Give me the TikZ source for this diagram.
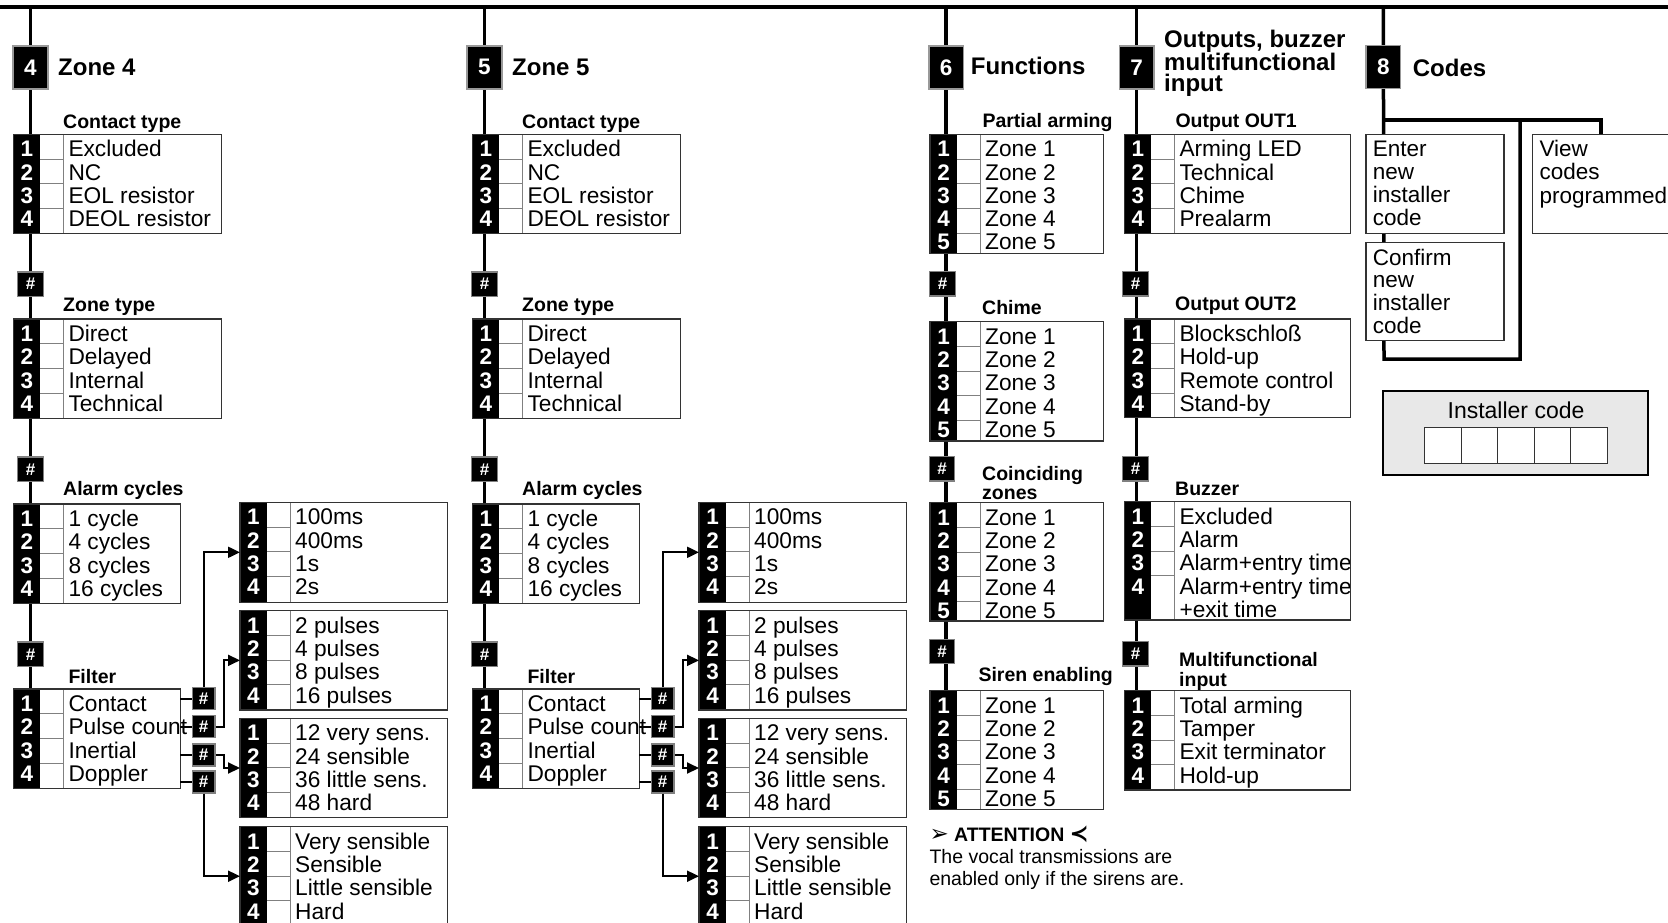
\documentclass[tikz,border=0pt]{standalone}
\usepackage{fontspec}
\setmainfont{Liberation Sans}
\newfontfamily\symfont{DejaVu Sans}
\usetikzlibrary{arrows.meta,positioning,calc}

\pgfdeclarelayer{background}
\pgfsetlayers{background,main}

\tikzset{
  optframe/.style={draw=black!80, line width=1.2pt, inner sep=0pt, outer sep=0pt},
  chkline/.style={draw=black!50, line width=1pt},
  optnum/.style={text=white, font=\bfseries\fontsize{22.5}{22.5}\selectfont, inner sep=0pt, anchor=base},
  opttext/.style={font=\fontsize{22.7}{23.3}\selectfont, inner sep=0pt, anchor=base west, align=left},
  lbl/.style={font=\bfseries\fontsize{19.5}{19.5}\selectfont, inner sep=0pt, anchor=base west, align=left},
  title/.style={font=\bfseries\fontsize{24}{21}\selectfont, inner sep=0pt, anchor=base west, align=left},
  hdbox/.style={fill=black, draw=black!40, line width=1.5pt, minimum width=35pt, minimum height=43pt,
    inner sep=0pt, text=white, font=\bfseries\fontsize{22.5}{22.5}\selectfont},
  hashbox/.style={fill=black, draw=black!50, line width=1.3pt, minimum width=25.5pt, minimum height=24.5pt,
    inner sep=0pt, text=white, font=\bfseries\fontsize{17}{17}\selectfont},
  sidehash/.style={hashbox, minimum width=22.7pt, minimum height=22pt},
  trunk/.style={line width=3.5pt},
  stub/.style={line width=2pt},
  conn/.style={line width=2pt, -{Triangle[length=12pt,width=11pt]}},
  codebox/.style={optframe, fill=white, anchor=north west},
}

% option list: name, top left, width, height, numbered rows, entries num/text
\newcommand{\optbox}[6]{%
  \node[optframe, fill=white, minimum width=#3pt, minimum height=#4pt, anchor=north west] (#1) at #2 {};
  \fill (#1.north west) rectangle ($(#1.south west)+(27,0)$);
  \foreach \k in {2,...,#5}
    \draw[chkline] ($(#1.north west)+(27,{(\k-1)*24.7})$) -- ++(23,0);
  \draw[chkline] ($(#1.north west)+(50,0)$) -- ($(#1.south west)+(50,0)$);
  \foreach \nm/\tx [count=\i] in {#6} {
    \node[optnum] (#1-n\i) at ($(#1.north west)+(13.5,{22.4+(\i-1)*23.3})$) {\nm};
    \node[opttext] (#1-t\i) at ($(#1.north west)+(55,{22.4+(\i-1)*23.3})$) {\tx};
  }
  \draw[optframe] (#1.north west) rectangle (#1.south east);
}

\begin{document}
\begin{tikzpicture}[x=1pt,y=-1pt]
\useasboundingbox (0,0) rectangle (1668,922);

% top bar
\coordinate (tl) at (-5,7);
\coordinate (tr) at (1673,7);
\draw[line width=4pt] (tl) -- (tr);

% Zone 4 and Zone 5
\foreach \z/\dx/\hx in {4/0/30.5,5/459/484.5} {
  \node[hdbox] (hd\z) at (\hx,67.3) {\z};
  \node[title] (tt\z) at (\hx+27.5,75) {Zone \z};

  \node[lbl] (lct\z) at (63+\dx,128) {Contact type};
  \optbox{ct\z}{(13.3+\dx,134.3)}{208}{99}{4}{1/Excluded,2/NC,3/EOL resistor,4/DEOL resistor}
  \node[hashbox] (ha\z) at (\hx,284.2) {\#};

  \node[lbl] (lzt\z) at (63+\dx,311) {Zone type};
  \optbox{zt\z}{(13.3+\dx,319)}{208}{99.3}{4}{1/Direct,2/Delayed,3/Internal,4/Technical}
  \node[hashbox] (hb\z) at (\hx,469.2) {\#};

  \node[lbl] (lac\z) at (63+\dx,495) {Alarm cycles};
  \optbox{ac\z}{(13.3+\dx,504)}{167}{99.3}{4}{1/1 cycle,2/4 cycles,3/8 cycles,4/16 cycles}
  \node[hashbox] (hc\z) at (\hx,654.2) {\#};

  \node[lbl] (lfi\z) at (68.3+\dx,683.3) {Filter};
  \optbox{fi\z}{(13.3+\dx,689)}{167}{99.3}{4}{1/Contact,2/Pulse count,3/Inertial,4/Doppler}

  % filter sub-menus
  \optbox{pd\z}{(240+\dx,502.3)}{207.7}{100}{4}{1/100ms,2/400ms,3/1s,4/2s}
  \optbox{pc\z}{(240+\dx,610.7)}{207.7}{99.3}{4}{1/2 pulses,2/4 pulses,3/8 pulses,4/16 pulses}
  \optbox{in\z}{(240+\dx,718.3)}{207.7}{99.4}{4}{1/12 very sens.,2/24 sensible,3/36 little sens.,4/48 hard}
  \optbox{dp\z}{(240+\dx,826.7)}{207.7}{99}{4}{1/Very sensible,2/Sensible,3/Little sensible,4/Hard}

  \node[sidehash] (sa\z) at (203.7+\dx,698.8) {\#};
  \node[sidehash] (sb\z) at (203.7+\dx,726.8) {\#};
  \node[sidehash] (sc\z) at (203.7+\dx,755) {\#};
  \node[sidehash] (sd\z) at (203.7+\dx,782) {\#};
  \draw[stub] (fi\z.east |- sa\z) -- (sa\z.west);
  \draw[stub] (fi\z.east |- sb\z) -- (sb\z.west);
  \draw[stub] (fi\z.east |- sc\z) -- (sc\z.west);
  \draw[stub] (fi\z.east |- sd\z) -- (sd\z.west);
  \draw[conn] (sa\z.north) |- (pd\z.west);
  \draw[conn] (sb\z.east) -- ++(8,0) |- (pc\z.west);
  \draw[conn] (sc\z.east) -- ++(8,0) |- (in\z.west);
  \draw[conn] (sd\z.south) |- (dp\z.west);
}

% Functions
\node[hdbox, minimum width=34.3pt] (hd6) at (946.2,67.3) {6};
\node[title] (tt6) at (970.7,74) {Functions};
\node[lbl] (lpa) at (982.3,127.7) {Partial arming};
\optbox{pa}{(930,134.3)}{173.3}{119}{5}{1/Zone 1,2/Zone 2,3/Zone 3,4/Zone 4,5/Zone 5}
\node[hashbox] (h6a) at (942.5,283.8) {\#};
\node[lbl] (lch) at (982,314.3) {Chime};
\optbox{ch}{(930,321.7)}{173.3}{119.3}{5}{1/Zone 1,2/Zone 2,3/Zone 3,4/Zone 4,5/Zone 5}
\node[hashbox] (h6b) at (942,468.8) {\#};
\node[lbl, font=\bfseries\fontsize{19.5}{19.3}\selectfont] (lcz) at (982,499.3) {Coinciding\\zones};
\optbox{cz}{(930,502.7)}{173.3}{118.3}{5}{1/Zone 1,2/Zone 2,3/Zone 3,4/Zone 4,5/Zone 5}
\node[hashbox] (h6c) at (942,651.5) {\#};
\node[lbl] (lse) at (978.3,681.7) {Siren enabling};
\optbox{se}{(930,690.7)}{173.3}{118.6}{5}{1/Zone 1,2/Zone 2,3/Zone 3,4/Zone 4,5/Zone 5}

% Attention note
\node[lbl] (att) at (929.3,841.7) {{\symfont\fontsize{23}{23}\selectfont ➢} ATTENTION {\symfont\fontsize{23}{23}\selectfont ≺}};
\node[opttext, font=\fontsize{19.5}{21.7}\selectfont] (attx) at (929.3,885)
  {The vocal transmissions are\\enabled only if the sirens are.};

% Outputs, buzzer, multifunctional input
\node[hdbox, minimum width=34.7pt] (hd7) at (1136.7,67.3) {7};
\node[title] (tt7) at (1164,91.7) {Outputs, buzzer\\multifunctional\\input};
\node[lbl] (lo1) at (1175.3,127.7) {Output OUT1};
\optbox{o1}{(1124.3,134.3)}{226.4}{99}{4}{1/Arming LED,2/Technical,3/Chime,4/Prealarm}
\node[hashbox] (h7a) at (1135.5,283.8) {\#};
\node[lbl] (lo2) at (1175,310.7) {Output OUT2};
\optbox{o2}{(1124.3,319)}{226.4}{98.7}{4}{1/Blockschloß,2/Hold-up,3/Remote control,4/Stand-by}
\node[hashbox] (h7b) at (1135.5,468.8) {\#};
\node[lbl] (lbz) at (1175,495) {Buzzer};
\optbox{bz}{(1124.3,501.7)}{226.4}{118.3}{4}{1/Excluded,2/Alarm,3/Alarm+entry time,4/Alarm+entry time,/+exit time}
\node[hashbox] (h7c) at (1135.5,653.8) {\#};
\node[lbl, font=\bfseries\fontsize{19.5}{20.7}\selectfont] (lmf) at (1179,686.7) {Multifunctional\\input};
\optbox{mf}{(1124.3,690.7)}{226.4}{99.3}{4}{1/Total arming,2/Tamper,3/Exit terminator,4/Hold-up}

% Codes
\node[hdbox, minimum width=34.7pt, minimum height=42.7pt] (hd8) at (1383.3,67) {8};
\node[title] (tt8) at (1412.7,76) {Codes};
\node[codebox, minimum width=138pt, minimum height=99pt] (enter) at (1366,134.3) {};
\node[opttext, font=\fontsize{22.5}{22.8}\selectfont] (entert) at (1372.7,225.1) {Enter\\new\\installer\\code};
\node[codebox, minimum width=138pt, minimum height=98.4pt] (conf) at (1366,242.3) {};
\node[opttext, font=\fontsize{22.5}{22.8}\selectfont] (conft) at (1372.7,333.4) {Confirm\\new\\installer\\code};
\node[codebox, minimum width=137.7pt, minimum height=99pt] (view) at (1532.3,134.3) {};
\node[opttext, font=\fontsize{22.5}{23.6}\selectfont] (viewt) at (1539.3,203.2) {View\\codes\\programmed};

% Installer code field
\node[draw, line width=2pt, fill=black!9, minimum width=265pt, minimum height=84pt] (inst) at (1515.8,433) {};
\node[inner sep=0pt, anchor=base, font=\fontsize{23}{23}\selectfont] (instt) at (1516,418.3) {Installer code};
\foreach \c in {0,...,4}
  \node[draw=black!80, fill=white, line width=1pt, minimum width=36.5pt, minimum height=36pt,
    anchor=north west] (cell\c) at (1424.3+\c*36.5,426.7) {};

% trunk lines behind the boxes
\begin{pgfonlayer}{background}
  \draw[trunk] (hd4 |- tl) -- (fi4.north -| hd4);
  \draw[trunk] (hd5 |- tl) -- (fi5.north -| hd5);
  \draw[trunk] (hd6 |- tl) -- (se.north -| hd6);
  \draw[trunk] (hd7 |- tl) -- (mf.north -| hd7);
  \coordinate (jn) at (1520,120);
  \coordinate (lp) at (1384,359);
  \draw[trunk] (hd8 |- tl) -- (lp) -| (jn);
  \draw[trunk] (hd8 |- jn) -| (view.north);
\end{pgfonlayer}
\end{tikzpicture}
\end{document}
